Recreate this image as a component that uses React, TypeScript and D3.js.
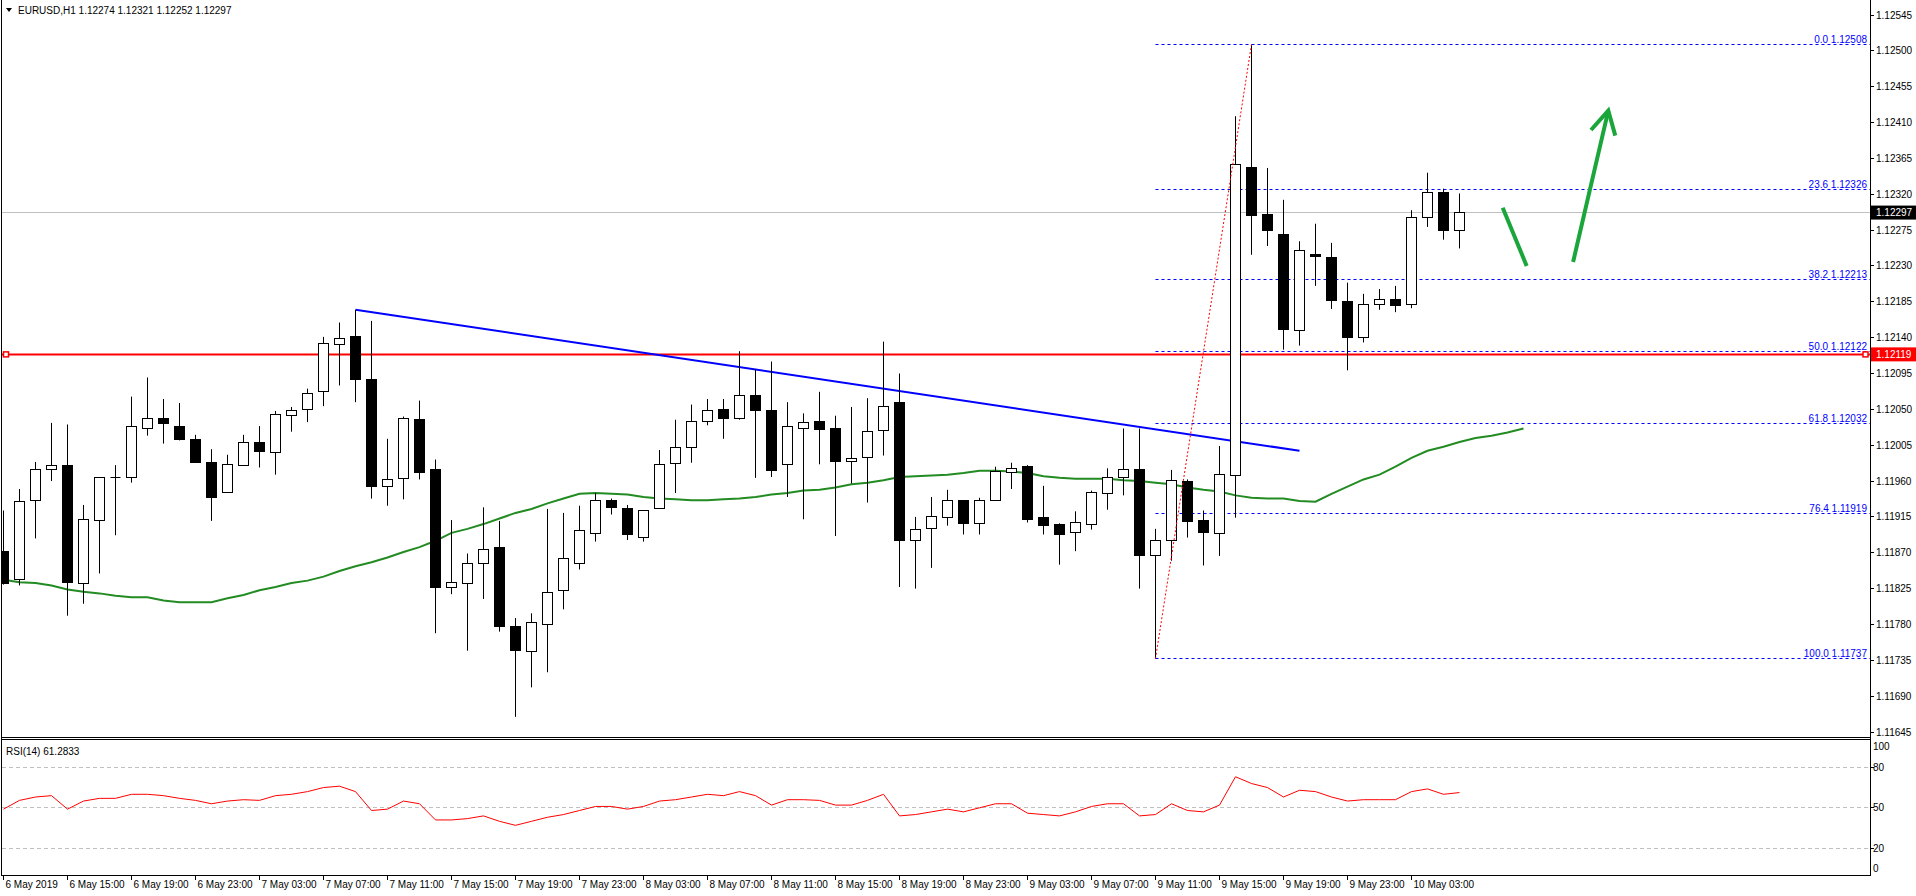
import React from 'react';
import * as d3 from 'd3';

const titleText = 'EURUSD,H1  1.12274 1.12321 1.12252 1.12297';
const rsiTitle = 'RSI(14) 61.2833';

const timeLabels = ['6 May 2019', '6 May 15:00', '6 May 19:00', '6 May 23:00', '7 May 03:00', '7 May 07:00', '7 May 11:00', '7 May 15:00', '7 May 19:00', '7 May 23:00', '8 May 03:00', '8 May 07:00', '8 May 11:00', '8 May 15:00', '8 May 19:00', '8 May 23:00', '9 May 03:00', '9 May 07:00', '9 May 11:00', '9 May 15:00', '9 May 19:00', '9 May 23:00', '10 May 03:00'];
const timeLabelStep = 4;

const priceTicks = [1.12545, 1.125, 1.12455, 1.1241, 1.12365, 1.1232, 1.12275, 1.1223, 1.12185, 1.1214, 1.12095, 1.1205, 1.12005, 1.1196, 1.11915, 1.1187, 1.11825, 1.1178, 1.11735, 1.1169, 1.11645];
const rsiTicks = [100, 80, 50, 20, 0];
const rsiLevels = [80, 50, 20];

const opens = [1.11871, 1.11837, 1.11935, 1.11974, 1.11979, 1.11832, 1.1191, 1.11964, 1.11964, 1.12026, 1.12038, 1.12029, 1.12012, 1.11983, 1.11945, 1.1198, 1.12008, 1.11996, 1.12042, 1.1205, 1.12072, 1.12132, 1.12141, 1.12087, 1.11953, 1.11963, 1.12037, 1.11974, 1.11826, 1.11832, 1.11856, 1.11876, 1.11777, 1.11746, 1.1178, 1.11822, 1.11857, 1.11894, 1.11935, 1.11925, 1.11889, 1.11926, 1.11982, 1.12002, 1.12035, 1.1205, 1.12038, 1.12068, 1.12049, 1.11981, 1.12026, 1.12035, 1.12026, 1.11984, 1.11989, 1.12023, 1.12058, 1.11885, 1.119, 1.11914, 1.11935, 1.11907, 1.11935, 1.11971, 1.11978, 1.11914, 1.11905, 1.11895, 1.11906, 1.11944, 1.11964, 1.11975, 1.11866, 1.11885, 1.11959, 1.11911, 1.11894, 1.11967, 1.12353, 1.12294, 1.1227, 1.12149, 1.12245, 1.12241, 1.12186, 1.1214, 1.12181, 1.12188, 1.12181, 1.12291, 1.12322, 1.12274];
const highs = [1.11923, 1.1195, 1.11984, 1.12033, 1.12031, 1.1193, 1.11965, 1.1198, 1.12066, 1.1209, 1.12063, 1.12058, 1.12018, 1.12, 1.11993, 1.12018, 1.12029, 1.12048, 1.12053, 1.12076, 1.12141, 1.12159, 1.12175, 1.12161, 1.12013, 1.12041, 1.12061, 1.11987, 1.11911, 1.11869, 1.11927, 1.1191, 1.11788, 1.11794, 1.11925, 1.1192, 1.11929, 1.11945, 1.11938, 1.1193, 1.11923, 1.11999, 1.12037, 1.12056, 1.12063, 1.12063, 1.12123, 1.121, 1.1211, 1.12059, 1.12045, 1.12072, 1.12042, 1.12053, 1.12064, 1.12135, 1.12095, 1.11915, 1.1194, 1.11949, 1.11935, 1.11939, 1.11978, 1.11983, 1.1198, 1.11954, 1.11907, 1.11922, 1.11948, 1.11976, 1.12026, 1.12026, 1.119, 1.11974, 1.11962, 1.11923, 1.12004, 1.12418, 1.12508, 1.12353, 1.12313, 1.12261, 1.12283, 1.12259, 1.12209, 1.12195, 1.12201, 1.12205, 1.123, 1.12347, 1.12327, 1.12321];
const lows = [1.1183, 1.11829, 1.11888, 1.1196, 1.11791, 1.11806, 1.11844, 1.11892, 1.11958, 1.12017, 1.12007, 1.12011, 1.11983, 1.1191, 1.11945, 1.1198, 1.11977, 1.11968, 1.12022, 1.12034, 1.12054, 1.1208, 1.12059, 1.11938, 1.11929, 1.11937, 1.11962, 1.11769, 1.11818, 1.11747, 1.11812, 1.11771, 1.11664, 1.11701, 1.1172, 1.11799, 1.11849, 1.11884, 1.11918, 1.11886, 1.11884, 1.11926, 1.11945, 1.11983, 1.1203, 1.12013, 1.12037, 1.11964, 1.11965, 1.1194, 1.11912, 1.11981, 1.11891, 1.11957, 1.11933, 1.11992, 1.11827, 1.11825, 1.11851, 1.11904, 1.11893, 1.11893, 1.11935, 1.1195, 1.11908, 1.11893, 1.11855, 1.11872, 1.11899, 1.11924, 1.11942, 1.11825, 1.11737, 1.1186, 1.11889, 1.11854, 1.11866, 1.11914, 1.12244, 1.12255, 1.12125, 1.1213, 1.12205, 1.12176, 1.12099, 1.12134, 1.12175, 1.12172, 1.12177, 1.12279, 1.12263, 1.12252];
const closes = [1.11832, 1.11934, 1.11974, 1.1198, 1.11833, 1.11912, 1.11965, 1.11964, 1.12028, 1.12038, 1.12032, 1.12012, 1.11983, 1.11939, 1.11981, 1.12009, 1.11997, 1.12044, 1.12049, 1.1207, 1.12133, 1.12139, 1.12088, 1.11953, 1.11962, 1.12039, 1.11971, 1.11827, 1.11833, 1.11856, 1.11874, 1.11777, 1.11747, 1.11782, 1.1182, 1.11863, 1.11898, 1.11935, 1.11927, 1.11893, 1.11923, 1.11981, 1.12002, 1.12035, 1.12049, 1.12038, 1.12067, 1.12048, 1.11973, 1.12028, 1.12033, 1.12025, 1.11984, 1.11988, 1.12022, 1.12054, 1.11885, 1.11899, 1.11915, 1.11935, 1.11907, 1.11936, 1.11972, 1.11976, 1.11912, 1.11904, 1.11893, 1.11908, 1.11946, 1.11964, 1.11975, 1.11866, 1.11885, 1.11961, 1.11909, 1.11896, 1.11968, 1.12357, 1.12293, 1.12274, 1.1215, 1.1225, 1.12242, 1.12187, 1.1214, 1.12181, 1.12188, 1.1218, 1.12291, 1.12322, 1.12274, 1.12297];

const maValues = [1.11836, 1.11833, 1.11832, 1.11829, 1.11824, 1.11821, 1.11819, 1.11816, 1.11814, 1.11814, 1.1181, 1.11808, 1.11808, 1.11808, 1.11813, 1.11817, 1.11823, 1.11827, 1.11832, 1.11835, 1.1184, 1.11847, 1.11853, 1.11858, 1.11864, 1.11871, 1.11877, 1.11885, 1.11895, 1.119, 1.11906, 1.11913, 1.1192, 1.11925, 1.11932, 1.11938, 1.11944, 1.11945, 1.11944, 1.11943, 1.1194, 1.11938, 1.11937, 1.11936, 1.11936, 1.11937, 1.11938, 1.1194, 1.11943, 1.11945, 1.11948, 1.11949, 1.11952, 1.11956, 1.11958, 1.11961, 1.11965, 1.11966, 1.11967, 1.11968, 1.1197, 1.11973, 1.11973, 1.11972, 1.1197, 1.11966, 1.11964, 1.11963, 1.11963, 1.11963, 1.11961, 1.1196, 1.11958, 1.11956, 1.11952, 1.11949, 1.11947, 1.11942, 1.11939, 1.11938, 1.11938, 1.11935, 1.11934, 1.11944, 1.11953, 1.11962, 1.11968, 1.11978, 1.11989, 1.11998, 1.12003, 1.12009, 1.12014, 1.12017, 1.12021, 1.12026];

const rsiValues = [49, 55.5, 58, 59, 49, 55, 57, 57, 60, 60, 59, 57, 55.5, 53, 55, 56, 55.5, 59, 60, 62, 65, 66, 62, 48, 49, 55, 53, 41, 41, 42, 44, 40, 37, 40, 43, 45, 48, 51, 51, 49, 51, 55, 56, 58, 60, 59, 62, 59, 52, 56, 56, 55.5, 52, 52, 55.5, 60, 44, 45, 47, 49, 47, 50, 53, 53, 46, 45, 44, 47, 51, 53, 53, 44, 45, 53, 48, 47, 52, 73, 68, 65, 58, 63, 62, 58, 55, 56, 56, 56, 62, 64, 60, 61.28];

const supportLevel = 1.12119;
const lastPrice = 1.12297;
const trendStart = { bar: 22, price: 1.12175 };
const trendEnd = { bar: 81, price: 1.11998 };
const fibLow = { bar: 72, price: 1.11737 };
const fibHigh = { bar: 78, price: 1.12508 };
const fibLevels = [
  { label: '0.0', price: 1.12508 },
  { label: '23.6', price: 1.12326 },
  { label: '38.2', price: 1.12213 },
  { label: '50.0', price: 1.12122 },
  { label: '61.8', price: 1.12032 },
  { label: '76.4', price: 1.11919 },
  { label: '100.0', price: 1.11737 },
];
const arrowDown = [{ bar: 93.7, price: 1.12303 }, { bar: 95.2, price: 1.1223 }];
const arrowUp = [{ bar: 98.1, price: 1.12235 }, { bar: 100.3, price: 1.12425 }];

const FONT = '"Liberation Sans", Arial, sans-serif';

export default function App() {
  const left = 2;
  const axisX = 1870;
  const mainBottom = 737;
  const rsiTop = 740;
  const rsiBottom = 875;

  const x = d3.scaleLinear().domain([0, 1]).range([3.5, 19.5]);
  const y = d3.scaleLinear().domain([1.11645, 1.12545]).range([732, 15]);
  const yr = d3.scaleLinear().domain([0, 100]).range([875.3, 740.3]);

  const maLine = d3.line<number>().x((_, i) => x(i)).y((d) => y(d));
  const rsiLine = d3.line<number>().x((_, i) => x(i)).y((d) => yr(d));

  const hp = (v: number) => Math.round(v - 0.5) + 0.5;

  const candles = opens.map((o, i) => {
    const c = closes[i];
    const cx = hp(x(i));
    const top = hp(y(Math.max(o, c)));
    const bot = hp(y(Math.min(o, c)));
    const bull = c > o;
    return (
      <g key={i}>
        <line x1={cx} x2={cx} y1={y(highs[i])} y2={y(lows[i])} stroke="#000" strokeWidth={1} />
        {bot - top < 1 ? (
          <line x1={cx - 5} x2={cx + 5} y1={top} y2={top} stroke="#000" strokeWidth={1} />
        ) : (
          <rect x={cx - 5} y={top} width={10} height={bot - top} fill={bull ? '#fff' : '#000'} stroke="#000" strokeWidth={1} />
        )}
      </g>
    );
  });

  const fibX1 = x(fibLow.bar);
  const green = '#1aa63a';

  const arrowHead = (() => {
    const [a, b] = arrowUp;
    const x1 = x(a.bar), y1 = y(a.price), x2 = x(b.bar), y2 = y(b.price);
    const ang = Math.atan2(y2 - y1, x2 - x1);
    const len = 26, spread = 0.5;
    const p1 = [x2 - len * Math.cos(ang - spread), y2 - len * Math.sin(ang - spread)];
    const p2 = [x2 - len * Math.cos(ang + spread), y2 - len * Math.sin(ang + spread)];
    return `M${p1[0]},${p1[1]} L${x2},${y2} L${p2[0]},${p2[1]}`;
  })();

  return (
    <div>
      <style>{`body{margin:0;background:#fff}`}</style>
      <svg width={1916} height={896} style={{ display: 'block', fontFamily: FONT }}>
        <rect x={0} y={0} width={1916} height={896} fill="#fff" />
        <defs>
          <clipPath id="mainClip">
            <rect x={left} y={0} width={axisX - left} height={mainBottom} />
          </clipPath>
          <clipPath id="rsiClip">
            <rect x={left} y={rsiTop} width={axisX - left} height={rsiBottom - rsiTop} />
          </clipPath>
        </defs>

        <g clipPath="url(#mainClip)">
          {/* last price line */}
          <line x1={left} x2={axisX} y1={hp(y(lastPrice))} y2={hp(y(lastPrice))} stroke="#c0c0c0" strokeWidth={1} />
          {/* fib levels */}
          {fibLevels.map((f) => (
            <g key={f.label}>
              <line x1={fibX1} x2={axisX} y1={hp(y(f.price))} y2={hp(y(f.price))} stroke="#0000ff" strokeWidth={1} strokeDasharray="3,3" />
              <text x={axisX - 3} y={hp(y(f.price)) - 2} fontSize={10} fill="#0000ff" textAnchor="end">
                {`${f.label} ${f.price.toFixed(5)}`}
              </text>
            </g>
          ))}
          {/* MA */}
          <path d={maLine(maValues) || ''} fill="none" stroke="#228b22" strokeWidth={2} />
          {/* support line */}
          <line x1={left} x2={axisX} y1={y(supportLevel)} y2={y(supportLevel)} stroke="#ff0000" strokeWidth={2} />
          <rect x={3.5} y={y(supportLevel) - 2.5} width={5} height={5} fill="#fff" stroke="#ff0000" strokeWidth={1.5} />
          <rect x={axisX - 7} y={y(supportLevel) - 2.5} width={5} height={5} fill="#fff" stroke="#ff0000" strokeWidth={1.5} />
          {/* trendline */}
          <line x1={x(trendStart.bar)} y1={y(trendStart.price)} x2={x(trendEnd.bar)} y2={y(trendEnd.price)} stroke="#0000ff" strokeWidth={2} />
          {/* candles */}
          {candles}
          {/* fib anchor */}
          <line x1={x(fibLow.bar)} y1={y(fibLow.price)} x2={x(fibHigh.bar)} y2={y(fibHigh.price)} stroke="#ff0000" strokeWidth={1} strokeDasharray="2,2" />
          {/* arrows */}
          <line x1={x(arrowDown[0].bar)} y1={y(arrowDown[0].price)} x2={x(arrowDown[1].bar)} y2={y(arrowDown[1].price)} stroke={green} strokeWidth={4} />
          <line x1={x(arrowUp[0].bar)} y1={y(arrowUp[0].price)} x2={x(arrowUp[1].bar)} y2={y(arrowUp[1].price)} stroke={green} strokeWidth={4} />
          <path d={arrowHead} fill="none" stroke={green} strokeWidth={4} strokeLinejoin="miter" />
        </g>

        {/* title */}
        <path d="M6,8 L12,8 L9,12 Z" fill="#000" />
        <text x={18} y={14} fontSize={10} fill="#000">{titleText}</text>

        {/* RSI panel */}
        <g clipPath="url(#rsiClip)">
          {rsiLevels.map((v) => (
            <line key={v} x1={left} x2={axisX} y1={hp(yr(v))} y2={hp(yr(v))} stroke="#c0c0c0" strokeWidth={1} strokeDasharray="4,3" />
          ))}
          <path d={rsiLine(rsiValues) || ''} fill="none" stroke="#ff0000" strokeWidth={1} />
        </g>
        <text x={6} y={755} fontSize={10} fill="#000">{rsiTitle}</text>

        {/* frames */}
        <line x1={1.5} x2={1.5} y1={0} y2={rsiBottom} stroke="#000" strokeWidth={1} />
        <line x1={axisX + 0.5} x2={axisX + 0.5} y1={0} y2={rsiBottom} stroke="#000" strokeWidth={1} />
        <line x1={1} x2={axisX + 1} y1={mainBottom + 0.5} y2={mainBottom + 0.5} stroke="#000" strokeWidth={1} />
        <line x1={1} x2={axisX + 1} y1={rsiTop - 0.5} y2={rsiTop - 0.5} stroke="#000" strokeWidth={1} />
        <line x1={1} x2={axisX + 1} y1={rsiBottom + 0.5} y2={rsiBottom + 0.5} stroke="#000" strokeWidth={1} />

        {/* price axis */}
        {priceTicks.map((p) => (
          <g key={p}>
            <line x1={axisX + 1} x2={axisX + 4} y1={hp(y(p))} y2={hp(y(p))} stroke="#000" />
            <text x={axisX + 6} y={y(p)} dy="0.35em" fontSize={10} fill="#000">{p.toFixed(5)}</text>
          </g>
        ))}
        <rect x={axisX + 1} y={y(lastPrice) - 7} width={45} height={14} fill="#000" />
        <text x={axisX + 6} y={y(lastPrice)} dy="0.35em" fontSize={10} fill="#fff">{lastPrice.toFixed(5)}</text>
        <rect x={axisX + 1} y={y(supportLevel) - 7} width={45} height={14} fill="#ff0000" />
        <text x={axisX + 6} y={y(supportLevel)} dy="0.35em" fontSize={10} fill="#fff">{supportLevel.toFixed(5)}</text>

        {/* RSI axis */}
        {rsiTicks.map((v) => {
          const yy = v === 100 ? yr(v) + 6 : v === 0 ? yr(v) - 7 : yr(v);
          return (
            <g key={v}>
              {v !== 100 && v !== 0 && <line x1={axisX + 1} x2={axisX + 4} y1={hp(yr(v))} y2={hp(yr(v))} stroke="#000" />}
              <text x={axisX + 3} y={yy} dy="0.35em" fontSize={10} fill="#000">{v}</text>
            </g>
          );
        })}

        {/* time axis */}
        {timeLabels.map((t, k) => {
          const tx = hp(x(k * timeLabelStep));
          return (
            <g key={t}>
              <line x1={tx} x2={tx} y1={rsiBottom + 1} y2={rsiBottom + 5} stroke="#000" />
              <text x={tx + 2} y={888} fontSize={10} fill="#000">{t}</text>
            </g>
          );
        })}
      </svg>
    </div>
  );
}
